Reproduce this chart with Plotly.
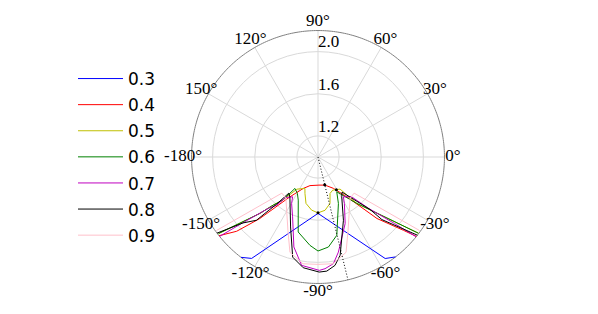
import plotly.graph_objects as go

# ---- data (theta in degrees, r radial values) ----
names = ["0.3", "0.4", "0.5", "0.6", "0.7", "0.8", "0.9"]
colors = ["#0000ff", "#ff0000", "#bfbf00", "#008000", "#bf00bf", "#000000", "#ffc0cb"]

theta_03 = [-127.5, -123.2, -90, -56.5, -52.2]
r_03 = [2.2, 2.15, 1.535, 2.155, 2.2]

theta_04 = [-141.5, -137.6, -133.4, -125.2, -115.2, -105.7, -88, -76, -63.9, -54.1, -46.2, -40.6, -38.9]
r_04 = [2.2, 2.045, 1.804, 1.463, 1.33, 1.282, 1.267, 1.275, 1.331, 1.467, 1.809, 2.07, 2.2]

theta_05 = [-142.4, -135.9, -133, -129.2, -123.3, -112.6, -109.7, -104.5, -96.8, -90, -82.5,
            -75.5, -71.7, -66, -55.5, -50.1, -37.2]
r_05 = [2.19, 1.77, 1.625, 1.528, 1.365, 1.323, 1.367, 1.455, 1.508, 1.53, 1.51,
        1.455, 1.364, 1.344, 1.37, 1.574, 2.196]

theta_06 = [-142.4, -135.9, -133, -129.2, -126.3, -119.5, -114.6, -104.8, -95.2, -90, -83.4,
            -76.5, -66.3, -61.7, -50.1, -37.2]
r_06 = [2.19, 1.77, 1.625, 1.528, 1.37, 1.397, 1.45, 1.736, 1.842, 1.892, 1.86,
        1.764, 1.482, 1.375, 1.574, 2.196]

theta_07 = [-141.1, -139, -134.1, -130.7, -128.5, -122.5, -119.6, -113, -105, -98.6, -89.3,
            -86.4, -81.8, -77.9, -67.8, -60.4, -57.5, -50, -45.5, -41, -39.1]
r_07 = [2.2, 1.963, 1.68, 1.603, 1.49, 1.448, 1.507, 1.617, 1.884, 2.04, 2.076,
        2.062, 2.023, 1.923, 1.682, 1.507, 1.448, 1.49, 1.68, 1.963, 2.2]

theta_08 = [-143, -138.7, -134.2, -132.8, -131.3, -128.9, -125, -111.4, -104.2, -97.6, -89.4,
            -85.6, -81.1, -77.3, -68.1, -59.2, -55.6, -45.2, -44.4, -38.2]
r_08 = [2.2, 1.948, 1.837, 1.697, 1.596, 1.44, 1.465, 1.713, 1.98, 2.06, 2.092,
        2.086, 2.041, 1.956, 1.647, 1.44, 1.404, 1.703, 1.849, 2.2]

theta_09 = [-144.1, -135, -128, -112.3, -106.4, -98, -90, -82, -73.6, -67.7, -52, -45, -35.9]
r_09 = [2.19, 1.485, 1.495, 1.752, 1.943, 2.023, 2.019, 2.023, 1.943, 1.752, 1.495, 1.485, 2.19]

thetas = [theta_03, theta_04, theta_05, theta_06, theta_07, theta_08, theta_09]
rs = [r_03, r_04, r_05, r_06, r_07, r_08, r_09]

ref_theta = [-76.3, -76.3]
ref_r = [1.0, 2.2]

dot_theta = [-76.4, -90, -60.8]
dot_r = [1.271, 1.53, 1.357]

r_min, r_max = 1.0, 2.2          # plotted radial extent (outer ring at r_max)
r_view_max = 2.3                 # room for the angular labels just outside the ring
radial_ticks = [1.2, 1.6, 2.0]
radial_labels = ["1.2", "1.6", "2.0"]
angle_ticks = [0, 30, 60, 90, 120, 150, 180, 210, 240, 270, 300, 330]
angle_labels = ["0°", "30°", "60°", "90°", "120°", "150°", "-180°", "-150°", "-120°", "-90°", "-60°", "-30°"]
angle_label_r = 2.281

serif = dict(family="Liberation Serif", size=17, color="black")

fig = go.Figure()

# spokes every 30 degrees (angular grid), from centre to outer ring
spoke_theta, spoke_r = [], []
for a in angle_ticks:
    spoke_theta += [a, a, None]
    spoke_r += [r_min, r_max, None]
fig.add_trace(go.Scatterpolar(theta=spoke_theta, r=spoke_r, mode="lines", showlegend=False,
                              line=dict(color="#d9d9d9", width=1), hoverinfo="skip"))
# outer ring (frame)
ring_theta = list(range(0, 361))
fig.add_trace(go.Scatterpolar(theta=ring_theta, r=[r_max] * len(ring_theta), mode="lines",
                              showlegend=False, line=dict(color="#808080", width=1),
                              hoverinfo="skip"))

for i, (name, col, th, rr) in enumerate(zip(names, colors, thetas, rs)):
    fig.add_trace(go.Scatterpolar(theta=th, r=rr, mode="lines", name=name,
                                  legendgroup=f"g{i}",
                                  line=dict(color=col, width=1)))

fig.add_trace(go.Scatterpolar(theta=ref_theta, r=ref_r, mode="lines", showlegend=False,
                              line=dict(color="black", width=1, dash="1px,2px")))
fig.add_trace(go.Scatterpolar(theta=dot_theta, r=dot_r, mode="markers", showlegend=False,
                              marker=dict(color="black", size=3)))

# angular tick labels, centred on a ring just outside the frame
fig.add_trace(go.Scatterpolar(theta=angle_ticks, r=[angle_label_r] * len(angle_ticks),
                              mode="text", text=angle_labels, textposition="middle center",
                              textfont=serif, cliponaxis=False, showlegend=False,
                              hoverinfo="skip"))
# radial tick labels, to the upper right of each ring on the 90° spoke
fig.add_trace(go.Scatterpolar(theta=[90] * len(radial_ticks), r=radial_ticks,
                              mode="text", text=radial_labels, textposition="top right",
                              textfont=serif, cliponaxis=False, showlegend=False,
                              hoverinfo="skip"))

fig.update_layout(
    width=598, height=314,
    margin=dict(l=0, r=0, t=12, b=28, autoexpand=False),
    paper_bgcolor="white",
    plot_bgcolor="white",
    showlegend=True,
    legend=dict(x=65 / 598, y=1 - (53 - 12) / 274, xanchor="left", yanchor="top",
                font=dict(family="DejaVu Sans", size=17, color="black"),
                tracegroupgap=1, itemwidth=45,
                bgcolor="rgba(0,0,0,0)"),
    polar=dict(
        domain=dict(x=[173 / 598, 447 / 598], y=[0, 1]),
        bgcolor="white",
        radialaxis=dict(range=[r_min, r_view_max], tickmode="array", tickvals=radial_ticks,
                        showticklabels=False, angle=90, showline=False, ticks="",
                        gridcolor="#d9d9d9", gridwidth=1),
        angularaxis=dict(tickmode="array", tickvals=angle_ticks, showticklabels=False,
                         rotation=0, direction="counterclockwise", ticks="",
                         showline=False, showgrid=False),
    ),
)

fig.write_html("out.html")
